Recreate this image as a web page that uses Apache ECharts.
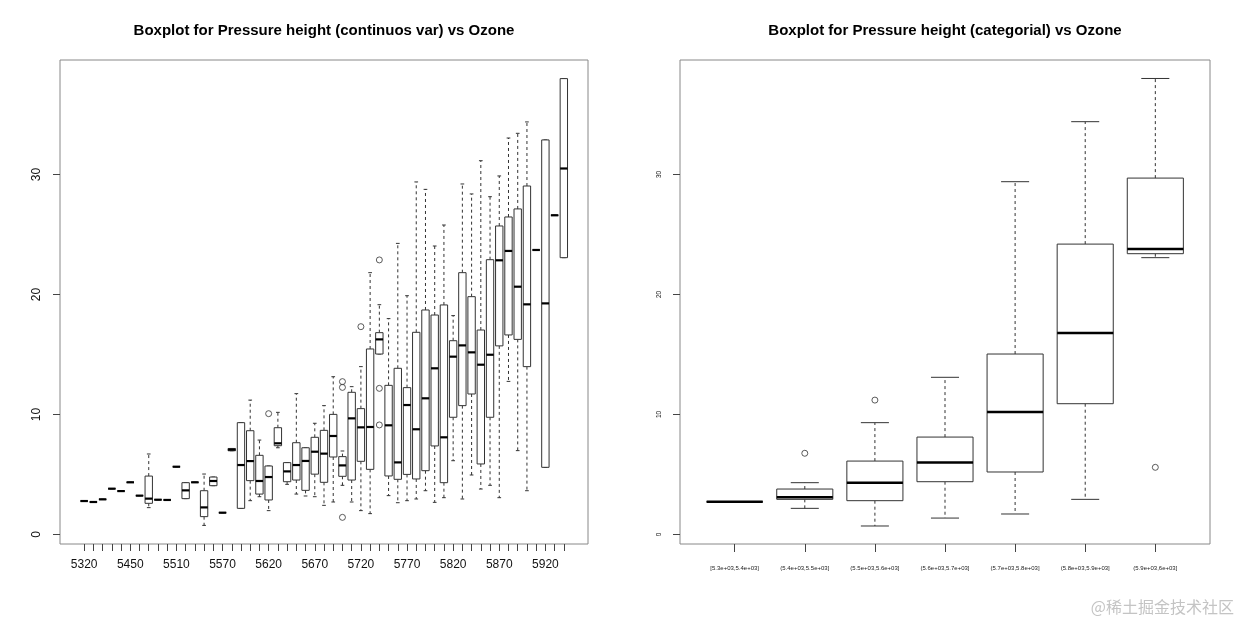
<!DOCTYPE html>
<html>
<head>
<meta charset="utf-8">
<script src="https://cdn.jsdelivr.net/npm/echarts@6/dist/echarts.min.js"></script>
<style>html,body{margin:0;padding:0;background:#fff}#c{width:1240px;height:620px}</style>
</head>
<body>
<div id="c"></div>
<script>
// ---- Left chart: pressure height (each value its own box) ----
const leftHeights = [5320,5360,5370,5410,5420,5450,5460,5470,5480,5500,
  5510,5520,5530,5540,5550,5570,5580,5590,5600,5610,
  5620,5630,5640,5650,5660,5670,5680,5690,5700,5710,
  5720,5730,5740,5750,5760,5770,5780,5790,5800,5810,
  5820,5830,5840,5850,5860,5870,5880,5890,5900,5910,
  5920,5930,5950];
const leftLow  = [2.79,2.71,2.93,3.82,3.62,4.35,3.24,2.24,2.9,2.88,
  5.65,2.99,4.35,0.76,4.07,1.82,6.98,2.18,2.82,3.15,
  1.99,7.23,4.18,3.37,3.21,3.15,2.43,2.71,4.1,2.71,
  1.99,1.74,15.04,3.24,2.65,2.82,2.96,3.65,2.68,3.07,
  6.15,2.96,4.96,3.79,4.1,3.07,12.76,6.99,3.65,23.71,
  5.6,26.6,23.07];
const leftQ1   = [2.79,2.71,2.93,3.82,3.62,4.35,3.24,2.6,2.9,2.88,
  5.65,2.99,4.35,1.49,4.07,1.82,6.98,2.18,4.49,3.37,
  2.88,7.4,4.4,4.54,3.68,5.03,4.35,6.46,4.85,4.54,
  6.1,5.43,15.04,4.88,4.6,5.01,4.63,5.32,7.38,4.32,
  9.77,10.74,11.71,5.88,9.77,15.72,16.63,16.26,13.99,23.71,
  5.6,26.6,23.07];
const leftMed  = [2.79,2.71,2.93,3.82,3.62,4.35,3.24,2.99,2.9,2.88,
  5.65,3.68,4.35,2.26,4.46,1.82,7.07,5.79,6.12,4.46,
  4.79,7.6,5.26,5.79,6.13,6.9,6.74,8.21,5.76,9.68,
  8.93,8.96,16.26,9.1,6.01,10.79,8.77,11.35,13.85,8.1,
  14.82,15.76,15.18,14.15,14.98,22.85,23.63,20.65,19.18,23.71,
  19.26,26.6,30.5];
const leftQ3   = [2.79,2.71,2.93,3.82,3.62,4.35,3.24,4.87,2.9,2.88,
  5.65,4.32,4.35,3.65,4.79,1.82,7.17,9.32,8.65,6.6,
  5.71,8.9,5.99,7.65,7.23,8.1,8.68,10.01,6.49,11.85,
  10.49,15.46,16.82,12.43,13.85,12.24,16.85,18.71,18.29,19.13,
  16.15,21.82,19.82,17.04,22.9,25.71,26.46,27.13,29.04,23.71,
  32.88,26.6,37.99];
const leftHigh = [2.79,2.71,2.93,3.82,3.62,4.35,3.24,6.71,2.9,2.88,
  5.65,4.32,4.35,5.04,4.79,1.82,7.17,9.32,11.2,7.87,
  5.71,10.18,5.99,11.74,7.23,9.27,10.74,13.15,6.96,12.32,
  13.99,21.82,19.15,17.99,24.26,19.9,29.38,28.76,24.04,25.79,
  18.24,29.21,28.38,31.15,28.15,29.88,33.04,33.43,34.38,23.71,
  32.88,26.6,37.99];
const leftOutlierIdx = [20,28,28,28,30,32,32,32];
const leftOutlierVal = [10.07,12.74,12.26,1.43,17.32,22.88,12.18,9.13];
const leftLabelIdx = [1,6,11,16,21,26,31,36,41,46,51];

// ---- Right chart: pressure height binned ----
const rightBins = ['[5.3e+03,5.4e+03]','(5.4e+03,5.5e+03]','(5.5e+03,5.6e+03]','(5.6e+03,5.7e+03]','(5.7e+03,5.8e+03]','(5.8e+03,5.9e+03]','(5.9e+03,6e+03]'];
const rightLow  = [2.73,2.18,0.71,1.37,1.71,2.93,23.07];
const rightQ1   = [2.73,2.93,2.82,4.4,5.21,10.9,23.4];
const rightMed  = [2.73,3.10,4.32,6.01,10.2,16.8,23.8];
const rightQ3   = [2.73,3.79,6.12,8.12,15.04,24.2,29.7];
const rightHigh = [2.73,4.32,9.32,13.1,29.4,34.4,38.0];
const rightOutlierIdx = [2,3,7];
const rightOutlierVal = [6.77,11.2,5.6];

const yTicks = [0,10,20,30];
// box positions start at OFF+1 so the x range never contains 0
const OFF = 10;

function boxData(low,q1,med,q3,high){
  return low.map((v,i)=>[OFF+i+1, v, q1[i], med[i], q3[i], high[i]]);
}
function outData(idx,val){ return idx.map((x,i)=>[OFF+x, val[i]]); }

function makeRender(medWidth){
  return function(params, api){
    const x = api.value(0);
    const lo=api.value(1), q1=api.value(2), md=api.value(3), q3=api.value(4), hi=api.value(5);
    const w = api.size([0.8,0])[0];
    const pLo=api.coord([x,lo]), pQ1=api.coord([x,q1]), pMd=api.coord([x,md]), pQ3=api.coord([x,q3]), pHi=api.coord([x,hi]);
    const cx = pMd[0];
    const stroke = '#333';
    const ch = [];
    ch.push({type:'line', shape:{x1:cx,y1:pQ3[1],x2:cx,y2:pHi[1]}, style:{stroke, lineWidth:1, lineDash:[3,3]}});
    ch.push({type:'line', shape:{x1:cx,y1:pQ1[1],x2:cx,y2:pLo[1]}, style:{stroke, lineWidth:1, lineDash:[3,3]}});
    ch.push({type:'line', shape:{x1:cx-w/4,y1:pHi[1],x2:cx+w/4,y2:pHi[1]}, style:{stroke, lineWidth:1}});
    ch.push({type:'line', shape:{x1:cx-w/4,y1:pLo[1],x2:cx+w/4,y2:pLo[1]}, style:{stroke, lineWidth:1}});
    ch.push({type:'rect', shape:{x:cx-w/2,y:pQ3[1],width:w,height:pQ1[1]-pQ3[1]}, style:{fill:'#fff', stroke, lineWidth:1}});
    ch.push({type:'line', shape:{x1:cx-w/2,y1:pMd[1],x2:cx+w/2,y2:pMd[1]}, style:{stroke:'#000', lineWidth:medWidth}});
    return {type:'group', children:ch};
  };
}

const font = 'Liberation Sans, Arial, Helvetica, sans-serif';
const chart = echarts.init(document.getElementById('c'), null, {renderer:'canvas'});

function yAxisDef(gi, fs){
  return {
    type:'value', gridIndex:gi, min:-0.79, max:39.54, position:'left',
    splitLine:{show:false}, axisLine:{show:false, onZero:false},
    axisTick:{show:true, length:7, customValues:yTicks, lineStyle:{color:'#444'}},
    axisLabel:{customValues:yTicks, rotate:90, margin:17, fontSize:fs, color:'#111', fontFamily:font}
  };
}

const leftTickPos = leftHeights.map((h,i)=>OFF+i+1);
const rightTickPos = rightBins.map((b,i)=>OFF+i+1);

chart.setOption({
  animation:false,
  backgroundColor:'#fff',
  title:[
    {text:'Boxplot for Pressure height (continuos var) vs Ozone', left:324, top:23, textAlign:'center', padding:0,
      textStyle:{fontSize:15, fontWeight:'bold', color:'#000', fontFamily:font}},
    {text:'Boxplot for Pressure height (categorial) vs Ozone', left:945, top:23, textAlign:'center', padding:0,
      textStyle:{fontSize:15, fontWeight:'bold', color:'#000', fontFamily:font}},
    {text:'@稀土掘金技术社区', right:6, bottom:5, padding:0,
      textStyle:{fontSize:16, fontWeight:'normal', color:'#c4c4c4', fontFamily:'Noto Sans CJK SC, sans-serif'}}
  ],
  grid:[
    {left:60, top:60, width:528, height:484, show:true, borderColor:'#888', borderWidth:1, backgroundColor:'transparent'},
    {left:680, top:60, width:530, height:484, show:true, borderColor:'#888', borderWidth:1, backgroundColor:'transparent'}
  ],
  xAxis:[
    {type:'value', gridIndex:0, min:OFF-1.62, max:OFF+55.62, position:'bottom', splitLine:{show:false},
      axisLine:{show:false, onZero:false},
      axisTick:{show:true, length:7, customValues:leftTickPos, lineStyle:{color:'#444'}},
      axisLabel:{customValues:leftLabelIdx.map(i=>OFF+i), formatter:v=>String(leftHeights[Math.round(v)-OFF-1]), margin:15, fontSize:12, color:'#111', fontFamily:font}},
    {type:'value', gridIndex:1, min:OFF+0.22, max:OFF+7.78, position:'bottom', splitLine:{show:false},
      axisLine:{show:false, onZero:false},
      axisTick:{show:true, length:8, customValues:rightTickPos, lineStyle:{color:'#444'}},
      axisLabel:{customValues:rightTickPos, formatter:v=>rightBins[Math.round(v)-OFF-1], margin:21, fontSize:6, color:'#222', fontFamily:font}}
  ],
  yAxis:[ yAxisDef(0,12), yAxisDef(1,6.5) ],
  series:[
    {type:'custom', xAxisIndex:0, yAxisIndex:0, data:boxData(leftLow,leftQ1,leftMed,leftQ3,leftHigh),
      encode:{x:0, y:[1,2,3,4,5]}, renderItem:makeRender(2.2), silent:true},
    {type:'scatter', xAxisIndex:0, yAxisIndex:0, data:outData(leftOutlierIdx.map(i=>i+1),leftOutlierVal),
      symbol:'circle', symbolSize:6, itemStyle:{color:'rgba(0,0,0,0)', borderColor:'#333', borderWidth:1}, silent:true},
    {type:'custom', xAxisIndex:1, yAxisIndex:1, data:boxData(rightLow,rightQ1,rightMed,rightQ3,rightHigh),
      encode:{x:0, y:[1,2,3,4,5]}, renderItem:makeRender(2.5), silent:true},
    {type:'scatter', xAxisIndex:1, yAxisIndex:1, data:outData(rightOutlierIdx,rightOutlierVal),
      symbol:'circle', symbolSize:6, itemStyle:{color:'rgba(0,0,0,0)', borderColor:'#333', borderWidth:1}, silent:true}
  ]
});
</script>
</body>
</html>
